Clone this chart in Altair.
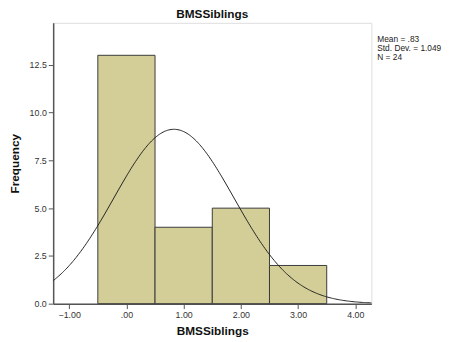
import altair as alt
import pandas as pd

# Histogram data
bin_centers = [0, 1, 2, 3]
counts = [13, 4, 5, 2]
bin_width = 1.0

# Summary statistics shown in the chart
mean_val = 0.83
sd_val = 1.049
n_val = 24
stats_lines = ["Mean = .83", "Std. Dev. = 1.049", "N = 24"]

x_ticks = [-1, 0, 1, 2, 3, 4]
y_ticks = [0, 2.5, 5, 7.5, 10, 12.5]

hist_df = pd.DataFrame({"center": bin_centers, "count": counts})

FONT = "Liberation Sans"
x_scale = alt.Scale(domain=[-1.28, 4.28], nice=False, zero=False)
y_scale = alt.Scale(domain=[0, 14.7], nice=False)

bars = alt.Chart(hist_df).transform_calculate(
    x0=f"datum.center - {bin_width}/2",
    x1=f"datum.center + {bin_width}/2",
).mark_bar(color="#d3ce97", stroke="#3a3a3a", strokeWidth=1).encode(
    x=alt.X("x0:Q", scale=x_scale,
            axis=alt.Axis(values=x_ticks, title="BMSSiblings",
                          labelExpr="datum.value == 0 ? '.00' : format(datum.value, '.2f')",
                          grid=False, tickSize=5, domain=True, domainColor="#555",
                          domainWidth=1.5,
                          labelFont=FONT, labelFontSize=9, labelColor="#333",
                          titleFont=FONT, titleFontSize=12, titleFontWeight="bold",
                          titleColor="#111", titlePadding=6, tickColor="#555")),
    x2="x1:Q",
    y=alt.Y("count:Q", scale=y_scale,
            axis=alt.Axis(values=y_ticks, title="Frequency", format=".1f",
                          grid=False, tickSize=5, domain=True, domainColor="#555",
                          domainWidth=1.5,
                          labelFont=FONT, labelFontSize=9, labelColor="#333",
                          titleFont=FONT, titleFontSize=12, titleFontWeight="bold",
                          titleColor="#111", titlePadding=8, tickColor="#555")),
    y2=alt.datum(0),
)

curve = alt.Chart(alt.sequence(start=-1.3, stop=4.31, step=0.02, as_="x")).transform_calculate(
    y=f"{n_val} * {bin_width} * exp(-0.5 * pow((datum.x - {mean_val}) / {sd_val}, 2)) / ({sd_val} * sqrt(2 * PI))"
).mark_line(color="#222", strokeWidth=1, clip=True).encode(
    x=alt.X("x:Q", scale=x_scale),
    y=alt.Y("y:Q", scale=y_scale),
)

stats = alt.Chart(pd.DataFrame({"a": [0]})).mark_text(
    align="left", baseline="top", font=FONT, fontSize=8.5, color="#222",
    lineHeight=9, text=stats_lines,
).encode(
    x=alt.value(330),
    y=alt.value(13),
)

chart = alt.layer(bars, curve, stats).properties(
    width=324, height=286,
    title=alt.TitleParams("BMSSiblings", font=FONT, fontSize=12, fontWeight="bold",
                          color="#111", anchor="middle", offset=2),
    padding={"left": 46, "top": 12, "right": 76, "bottom": 40},
    autosize=alt.AutoSizeParams(type="none"),
).configure_view(
    fill="#f0f0f0", stroke="#8a8a8a", strokeWidth=1.5
).configure(background="white")

chart.save("out.html", embed_options={"renderer": "svg", "actions": False})
